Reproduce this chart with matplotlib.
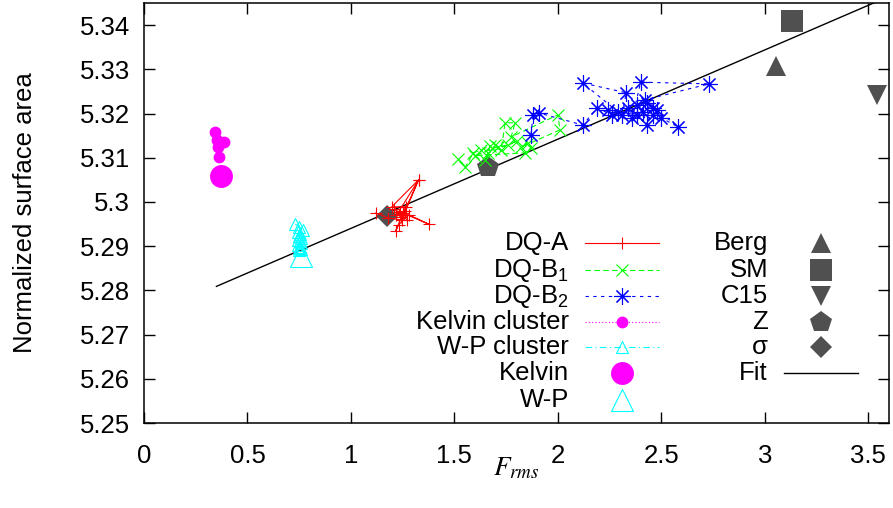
import matplotlib
matplotlib.use("Agg")
import matplotlib.pyplot as plt
from matplotlib.ticker import FuncFormatter

plt.rcParams['font.family'] = ['Liberation Sans', 'DejaVu Sans']
plt.rcParams['mathtext.fontset'] = 'custom'
plt.rcParams['mathtext.rm'] = 'Liberation Sans'
plt.rcParams['mathtext.it'] = 'Liberation Sans:italic'

# ---------------- data ----------------
dqa_x = [1.12, 1.18, 1.245, 1.327, 1.197, 1.264, 1.216, 1.23, 1.279, 1.375,
         1.25, 1.22, 1.327, 1.26, 1.24, 1.21, 1.27, 1.235]
dqa_y = [5.2975, 5.2964, 5.2959, 5.3050, 5.2989, 5.2989, 5.2934, 5.2948, 5.2971, 5.2950,
         5.2975, 5.2970, 5.3050, 5.2980, 5.2965, 5.2985, 5.2960, 5.2978]

dqb1_x = [1.519, 1.553, 1.591, 1.63, 1.673, 1.649, 1.697, 1.726, 1.745, 1.793, 1.774,
          2.0, 2.01, 1.822, 1.856, 1.87, 1.841, 1.60, 1.71, 1.76, 1.80, 1.66]
dqb1_y = [5.3097, 5.3079, 5.3111, 5.3118, 5.3127, 5.3095, 5.3129, 5.3118, 5.3179, 5.3179, 5.3147,
          5.3197, 5.3163, 5.3124, 5.3133, 5.3122, 5.3111, 5.3105, 5.3125, 5.3128, 5.3138, 5.3110]

dqb2_x = [1.87, 1.88, 1.91, 2.12, 2.19, 2.26, 2.29, 2.12, 2.33, 2.31, 2.34, 2.36, 2.40,
          2.73, 2.42, 2.38, 2.41, 2.43, 2.46, 2.43, 2.48, 2.58, 2.50, 2.46, 2.38, 2.24]
dqb2_y = [5.3152, 5.3197, 5.3201, 5.3174, 5.3213, 5.3197, 5.3204, 5.3269, 5.3247, 5.3197,
          5.3213, 5.3190, 5.3271, 5.3267, 5.3231, 5.3219, 5.3204, 5.3174, 5.3213, 5.3224,
          5.3208, 5.3170, 5.3190, 5.3197, 5.3197, 5.3208]

kelvin_cl_x = [0.341, 0.351, 0.385, 0.356, 0.36]
kelvin_cl_y = [5.3158, 5.3140, 5.3136, 5.3124, 5.3102]

wp_cl_x = [0.731, 0.75, 0.766, 0.745, 0.755, 0.748, 0.76, 0.742, 0.752, 0.758,
           0.746, 0.754, 0.75, 0.757, 0.748]
wp_cl_y = [5.2950, 5.2944, 5.2937, 5.2932, 5.2928, 5.2923, 5.2919, 5.2915, 5.2911, 5.2907,
           5.2903, 5.2899, 5.2896, 5.2893, 5.2891]

kelvin_x, kelvin_y = [0.37], [5.3059]
wp_x, wp_y = [0.76], [5.2877]
berg_x, berg_y = [3.053], [5.3307]
sm_x, sm_y = [3.13], [5.341]
c15_x, c15_y = [3.54], [5.3242]
z_x, z_y = [1.663], [5.3079]
sigma_x, sigma_y = [1.173], [5.2968]

fit_x = [0.35, 3.6]
fit_y = [5.2809, 5.3465]

xticks = [0, 0.5, 1, 1.5, 2, 2.5, 3, 3.5]
yticks = [5.25, 5.26, 5.27, 5.28, 5.29, 5.30, 5.31, 5.32, 5.33, 5.34]

# ---------------- figure ----------------
W, H = 893, 508
fig = plt.figure(figsize=(W / 100, H / 100), dpi=100)
L, R, T, B = 144, 889, 3, 423
ax = fig.add_axes([L / W, (H - B) / H, (R - L) / W, (B - T) / H])

GRAY = '#505050'
FS = 18.5
lw = 0.8

styles = {
    'DQ-A': dict(color='#ff0000', ls='-', marker='+', ms=9, mew=lw, lw=lw),
    'DQ-B$_1$': dict(color='#00ff00', ls=(0, (5, 3)), marker='x', ms=9, mew=lw, lw=lw),
    'DQ-B$_2$': dict(color='#0000ff', ls=(0, (3, 4)), marker=(8, 2, 0), ms=12, mew=lw, lw=lw),
    'Kelvin cluster': dict(color='#ff00ff', ls=(0, (1, 2)), marker='o', ms=8.5, mew=0, lw=lw),
    'W-P cluster': dict(color='#00ffff', ls=(0, (6, 3, 1, 3)), marker='^', ms=8, mew=lw,
                        mfc='none', lw=lw),
    'Kelvin': dict(color='#ff00ff', ls='none', marker='o', ms=16.5, mew=0),
    'W-P': dict(color='#00ffff', ls='none', marker='^', ms=16, mew=lw, mfc='none'),
    'Berg': dict(color=GRAY, ls='none', marker='^', ms=15, mew=0),
    'SM': dict(color=GRAY, ls='none', marker='s', ms=16.5, mew=0),
    'C15': dict(color=GRAY, ls='none', marker='v', ms=15, mew=0),
    'Z': dict(color=GRAY, ls='none', marker='p', ms=16, mew=0),
    'σ': dict(color=GRAY, ls='none', marker='D', ms=11, mew=0),
    'Fit': dict(color='black', ls='-', lw=1.0),
}

series = {
    'DQ-A': (dqa_x, dqa_y), 'DQ-B$_1$': (dqb1_x, dqb1_y), 'DQ-B$_2$': (dqb2_x, dqb2_y),
    'Kelvin cluster': (kelvin_cl_x, kelvin_cl_y), 'W-P cluster': (wp_cl_x, wp_cl_y),
    'Kelvin': (kelvin_x, kelvin_y), 'W-P': (wp_x, wp_y),
    'Berg': (berg_x, berg_y), 'SM': (sm_x, sm_y), 'C15': (c15_x, c15_y),
    'Z': (z_x, z_y), 'σ': (sigma_x, sigma_y), 'Fit': (fit_x, fit_y),
}

zorders = {'Fit': 2, 'Berg': 3, 'SM': 3, 'C15': 3, 'Z': 3, 'σ': 3}
for name, (xs, ys) in series.items():
    ax.plot(xs, ys, zorder=zorders.get(name, 4), clip_on=(name == 'Fit'), **styles[name])

ax.set_xlim(0, 3.6)
ax.set_ylim(5.25, 5.345)
ax.set_xticks(xticks)
ax.set_yticks(yticks)
fmt = FuncFormatter(lambda v, p: '%g' % round(v, 4))
ax.xaxis.set_major_formatter(fmt)
ax.yaxis.set_major_formatter(fmt)
ax.tick_params(direction='in', top=True, right=True, length=8, width=1.0,
               labelsize=FS)
ax.tick_params(axis='x', pad=15)
ax.tick_params(axis='y', pad=10)
for sp in ax.spines.values():
    sp.set_linewidth(1.1)

ax.set_xlabel(r'$F_{rms}$', fontsize=FS + 1, math_fontfamily='stix', labelpad=-9)
ax.set_ylabel('Normalized surface area', fontsize=FS, labelpad=31)

# ---------------- legend (gnuplot style: text right-aligned, sample after) ----------------
def px2ax(px, py):
    return (px - L) / (R - L), (B - py) / (B - T)

rows_py = [243, 270, 296, 322, 347, 373, 400]
left_names = ['DQ-A', 'DQ-B$_1$', 'DQ-B$_2$', 'Kelvin cluster', 'W-P cluster', 'Kelvin', 'W-P']
right_names = ['Berg', 'SM', 'C15', 'Z', 'σ', 'Fit']

def legend_col(names, text_px, line_px0, line_px1, mark_px):
    for name, py in zip(names, rows_py):
        tx, ty = px2ax(text_px, py)
        ax.text(tx, ty, name, transform=ax.transAxes, ha='right', va='center', fontsize=FS)
        st = dict(styles[name])
        x0, _ = px2ax(line_px0, py)
        x1, _ = px2ax(line_px1, py)
        xm, _ = px2ax(mark_px, py)
        if st.get('ls', '-') != 'none':
            lst = {k: v for k, v in st.items() if k not in ('marker', 'ms', 'mew', 'mfc')}
            ax.plot([x0, x1], [ty, ty], transform=ax.transAxes, clip_on=False, **lst)
        if 'marker' in st:
            mst = dict(st)
            mst['ls'] = 'none'
            ax.plot([xm], [ty], transform=ax.transAxes, clip_on=False, **mst)

legend_col(left_names, 569, 585, 659, 622)
legend_col(right_names, 768, 784, 858, 821)

fig.savefig('out.png', dpi=100)
